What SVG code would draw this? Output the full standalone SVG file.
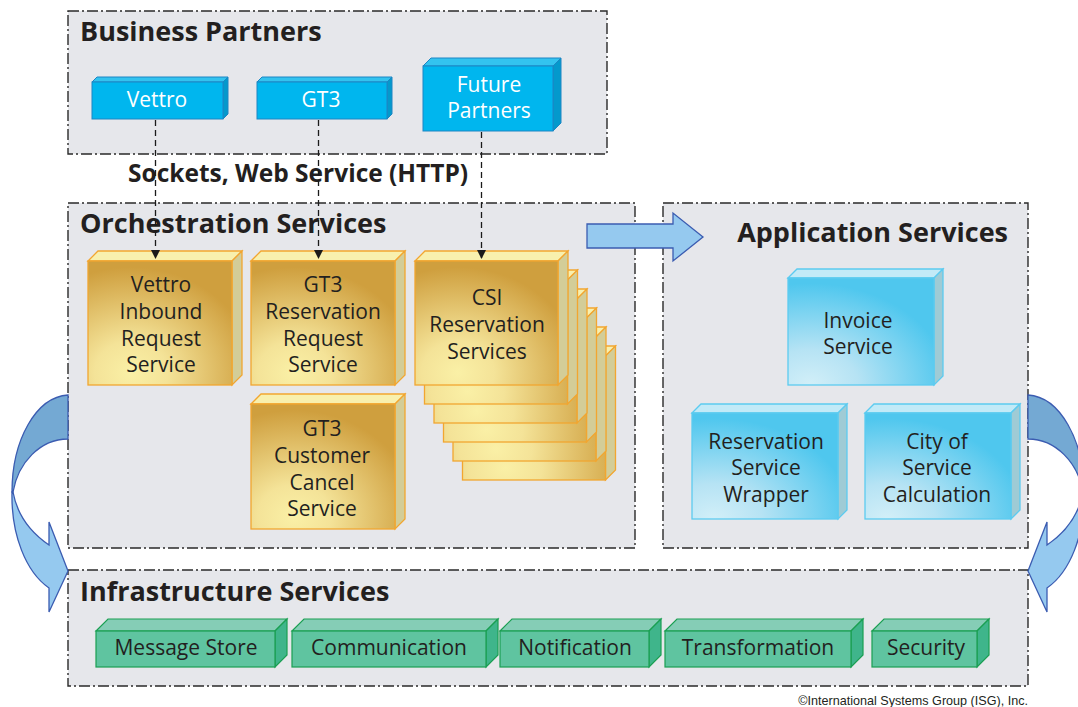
<svg xmlns="http://www.w3.org/2000/svg" width="1078" height="707" viewBox="0 0 1078 707">
  <defs>
    <radialGradient id="goldFace" cx="0.3" cy="0.9" r="0.85" fx="0.3" fy="0.9">
      <stop offset="0" stop-color="#faf0a6"/>
      <stop offset="0.3" stop-color="#f4e398"/>
      <stop offset="1" stop-color="#cf9f3e"/>
    </radialGradient>
    <radialGradient id="blueFace" cx="0.15" cy="1" r="0.95" fx="0.15" fy="1">
      <stop offset="0" stop-color="#d2eff8"/>
      <stop offset="0.35" stop-color="#b6e3f4"/>
      <stop offset="1" stop-color="#4fc7ee"/>
    </radialGradient>
    <marker id="arrowhead" viewBox="0 0 10 10" refX="10" refY="5" markerWidth="9" markerHeight="9" markerUnits="userSpaceOnUse" orient="auto">
      <path d="M0,0 L10,5 L0,10 Z" fill="#1a1a1a"/>
    </marker>
    <style>
      .panel { fill: #e6e7eb; stroke: #2a2a2a; stroke-width: 1.4; stroke-dasharray: 11 3 2 3; }
      .title { font-family: "Open Sans", "Noto Sans", sans-serif; font-weight: bold; font-size: 27px; fill: #231f20; }
      .label { font-family: "Open Sans", "Noto Sans", sans-serif; font-size: 21px; fill: #231f20; text-anchor: middle; }
      .white { fill: #ffffff; }
      .partner .front { fill: #00b6ee; stroke: #1c86c4; stroke-width: 1; }
      .partner .top { fill: #33c3ef; stroke: #1c86c4; stroke-width: 1; }
      .partner .side { fill: #0499cc; stroke: #1c86c4; stroke-width: 1; }
      .gold .front { fill: url(#goldFace); stroke: #f2a630; stroke-width: 1.3; }
      .gold .top { fill: #f8f0ae; stroke: #f2a630; stroke-width: 1.3; }
      .gold .side { fill: #d3cd98; stroke: #f2a630; stroke-width: 1.3; }
      .app .front { fill: url(#blueFace); stroke: #5ccbf0; stroke-width: 1.3; }
      .app .top { fill: #c2eaf7; stroke: #5ccbf0; stroke-width: 1.3; }
      .app .side { fill: #9fcbd5; stroke: #5ccbf0; stroke-width: 1.3; }
      .infra .front { fill: #5fc4a0; stroke: #1a9f52; stroke-width: 1.2; }
      .infra .top { fill: #85cdb6; stroke: #1a9f52; stroke-width: 1.2; }
      .infra .side { fill: #3fb58b; stroke: #1a9f52; stroke-width: 1.2; }
      .link { stroke: #1a1a1a; stroke-width: 1.3; stroke-dasharray: 6 4; fill: none; }
      .flowDark { fill: #74a9d3; stroke: #3b5cb1; stroke-width: 1.3; }
      .flowLight { fill: #95c9ef; stroke: #3b5cb1; stroke-width: 1.3; }
    </style>
  </defs>

  <!-- Layer panels -->
  <g id="panel-business">
    <rect class="panel" x="68" y="11" width="539" height="143"/>
    <text class="title" x="80" y="41">Business Partners</text>
  </g>
  <g id="panel-orchestration">
    <rect class="panel" x="68" y="203" width="567" height="345"/>
    <text class="title" x="80" y="233">Orchestration Services</text>
  </g>
  <g id="panel-application">
    <rect class="panel" x="663" y="203" width="365" height="345"/>
    <text class="title" x="1008" y="242" text-anchor="end">Application Services</text>
  </g>
  <g id="panel-infrastructure">
    <rect class="panel" x="68" y="570" width="960" height="116"/>
    <text class="title" x="80" y="601">Infrastructure Services</text>
  </g>

  <!-- Business partners -->
  <g id="partner-vettro" class="partner">
    <polygon class="top" points="92,82 97,77 228,77 223,82"/>
    <polygon class="side" points="223,82 228,77 228,114 223,119"/>
    <rect class="front" x="92" y="82" width="131" height="37"/>
    <text class="label white" x="157" y="107">Vettro</text>
  </g>
  <g id="partner-gt3" class="partner">
    <polygon class="top" points="257,82 262,77 392,77 387,82"/>
    <polygon class="side" points="387,82 392,77 392,114 387,119"/>
    <rect class="front" x="257" y="82" width="130" height="37"/>
    <text class="label white" x="321" y="107">GT3</text>
  </g>
  <g id="partner-future" class="partner">
    <polygon class="top" points="423,66 431,58 561,58 553,66"/>
    <polygon class="side" points="553,66 561,58 561,123 553,131"/>
    <rect class="front" x="423" y="66" width="130" height="65"/>
    <text class="label white" x="489" y="92">Future</text>
    <text class="label white" x="489" y="118">Partners</text>
  </g>

  <text id="protocol-label" class="title" x="128" y="182" style="font-size:24.5px">Sockets, Web Service (HTTP)</text>

  <!-- Orchestration services -->
  <g id="svc-vettro-inbound" class="gold">
    <polygon class="top" points="88,261 98,251 242,251 232,261"/>
    <polygon class="side" points="232,261 242,251 242,375 232,385"/>
    <rect class="front" x="88" y="261" width="144" height="124"/>
    <text class="label" x="161" y="292">Vettro</text>
    <text class="label" x="161" y="319">Inbound</text>
    <text class="label" x="161" y="346">Request</text>
    <text class="label" x="161" y="372">Service</text>
  </g>
  <g id="svc-gt3-reservation" class="gold">
    <polygon class="top" points="251,261 261,251 405,251 395,261"/>
    <polygon class="side" points="395,261 405,251 405,375 395,385"/>
    <rect class="front" x="251" y="261" width="144" height="124"/>
    <text class="label" x="323" y="292">GT3</text>
    <text class="label" x="323" y="319">Reservation</text>
    <text class="label" x="323" y="346">Request</text>
    <text class="label" x="323" y="372">Service</text>
  </g>
  <g id="svc-gt3-cancel" class="gold">
    <polygon class="top" points="251,404 261,394 405,394 395,404"/>
    <polygon class="side" points="395,404 405,394 405,519 395,529"/>
    <rect class="front" x="251" y="404" width="144" height="125"/>
    <text class="label" x="322" y="436">GT3</text>
    <text class="label" x="322" y="463">Customer</text>
    <text class="label" x="322" y="490">Cancel</text>
    <text class="label" x="322" y="516">Service</text>
  </g>
  <g id="svc-csi-reservation" class="gold">
    <!-- stacked instances, back to front -->
    <g transform="translate(47.5,95)">
      <polygon class="top" points="415,261 425,251 568,251 558,261"/>
      <polygon class="side" points="558,261 568,251 568,375 558,385"/>
      <rect class="front" x="415" y="261" width="143" height="124"/>
    </g>
    <g transform="translate(38,76)">
      <polygon class="top" points="415,261 425,251 568,251 558,261"/>
      <polygon class="side" points="558,261 568,251 568,375 558,385"/>
      <rect class="front" x="415" y="261" width="143" height="124"/>
    </g>
    <g transform="translate(28.5,57)">
      <polygon class="top" points="415,261 425,251 568,251 558,261"/>
      <polygon class="side" points="558,261 568,251 568,375 558,385"/>
      <rect class="front" x="415" y="261" width="143" height="124"/>
    </g>
    <g transform="translate(19,38)">
      <polygon class="top" points="415,261 425,251 568,251 558,261"/>
      <polygon class="side" points="558,261 568,251 568,375 558,385"/>
      <rect class="front" x="415" y="261" width="143" height="124"/>
    </g>
    <g transform="translate(9.5,19)">
      <polygon class="top" points="415,261 425,251 568,251 558,261"/>
      <polygon class="side" points="558,261 568,251 568,375 558,385"/>
      <rect class="front" x="415" y="261" width="143" height="124"/>
    </g>
    <polygon class="top" points="415,261 425,251 568,251 558,261"/>
    <polygon class="side" points="558,261 568,251 568,375 558,385"/>
    <rect class="front" x="415" y="261" width="143" height="124"/>
    <text class="label" x="487" y="305">CSI</text>
    <text class="label" x="487" y="332">Reservation</text>
    <text class="label" x="487" y="359">Services</text>
  </g>

  <!-- Application services -->
  <g id="app-invoice" class="app">
    <polygon class="top" points="788,278 797,269 943,269 934,278"/>
    <polygon class="side" points="934,278 943,269 943,376 934,385"/>
    <rect class="front" x="788" y="278" width="146" height="107"/>
    <text class="label" x="858" y="328">Invoice</text>
    <text class="label" x="858" y="354">Service</text>
  </g>
  <g id="app-reservation-wrapper" class="app">
    <polygon class="top" points="692,413 701,404 847,404 838,413"/>
    <polygon class="side" points="838,413 847,404 847,510 838,519"/>
    <rect class="front" x="692" y="413" width="146" height="106"/>
    <text class="label" x="766" y="449">Reservation</text>
    <text class="label" x="766" y="475">Service</text>
    <text class="label" x="766" y="502">Wrapper</text>
  </g>
  <g id="app-city-calc" class="app">
    <polygon class="top" points="865,413 874,404 1020,404 1011,413"/>
    <polygon class="side" points="1011,413 1020,404 1020,510 1011,519"/>
    <rect class="front" x="865" y="413" width="146" height="106"/>
    <text class="label" x="937" y="449">City of</text>
    <text class="label" x="937" y="475">Service</text>
    <text class="label" x="937" y="502">Calculation</text>
  </g>

  <!-- Infrastructure services -->
  <g id="infra-message-store" class="infra">
    <polygon class="top" points="96,631 108,619 287,619 275,631"/>
    <polygon class="side" points="275,631 287,619 287,655 275,667"/>
    <rect class="front" x="96" y="631" width="179" height="36"/>
    <text class="label" x="186" y="655">Message Store</text>
  </g>
  <g id="infra-communication" class="infra">
    <polygon class="top" points="292,631 304,619 498,619 486,631"/>
    <polygon class="side" points="486,631 498,619 498,655 486,667"/>
    <rect class="front" x="292" y="631" width="194" height="36"/>
    <text class="label" x="389" y="655">Communication</text>
  </g>
  <g id="infra-notification" class="infra">
    <polygon class="top" points="500,631 512,619 661,619 649,631"/>
    <polygon class="side" points="649,631 661,619 661,655 649,667"/>
    <rect class="front" x="500" y="631" width="149" height="36"/>
    <text class="label" x="575" y="655">Notification</text>
  </g>
  <g id="infra-transformation" class="infra">
    <polygon class="top" points="665,631 677,619 863,619 851,631"/>
    <polygon class="side" points="851,631 863,619 863,655 851,667"/>
    <rect class="front" x="665" y="631" width="186" height="36"/>
    <text class="label" x="758" y="655">Transformation</text>
  </g>
  <g id="infra-security" class="infra">
    <polygon class="top" points="872,631 884,619 989,619 977,631"/>
    <polygon class="side" points="977,631 989,619 989,655 977,667"/>
    <rect class="front" x="872" y="631" width="105" height="36"/>
    <text class="label" x="926" y="655">Security</text>
  </g>

  <!-- Connectors -->
  <g id="connectors">
    <line class="link" x1="155.5" y1="120" x2="155.5" y2="259" marker-end="url(#arrowhead)"/>
    <line class="link" x1="318.5" y1="120" x2="318.5" y2="259" marker-end="url(#arrowhead)"/>
    <line class="link" x1="481.5" y1="132" x2="481.5" y2="259" marker-end="url(#arrowhead)"/>

    <!-- orchestration to application block arrow -->
    <polygon class="flowLight" points="587,224 673,224 673,213 703,237 673,261 673,248 587,248"/>

    <!-- left curved flow arrow -->
    <g id="flow-left">
      <path class="flowLight" d="M12,492 C11,535 26,572 49,588 L49,612 L68,571 L49,522 L49,545 C30,532 17,514 13,492 Z"/>
      <path class="flowDark" d="M68,395 C36,397 12,440 12,492 L13,492 C18,463 40,439 68,439 Z"/>
    </g>
    <!-- right curved flow arrow (mirror image) -->
    <g id="flow-right" transform="translate(1096,0) scale(-1,1)">
      <path class="flowLight" d="M12,492 C11,535 26,572 49,588 L49,612 L68,571 L49,522 L49,545 C30,532 17,514 13,492 Z"/>
      <path class="flowDark" d="M68,395 C36,397 12,440 12,492 L13,492 C18,463 40,439 68,439 Z"/>
    </g>
  </g>

  <text id="copyright" x="1028" y="705" text-anchor="end" font-family="Liberation Sans, Arial, sans-serif" font-size="12.6" fill="#231f20">©International Systems Group (ISG), Inc.</text>
</svg>
